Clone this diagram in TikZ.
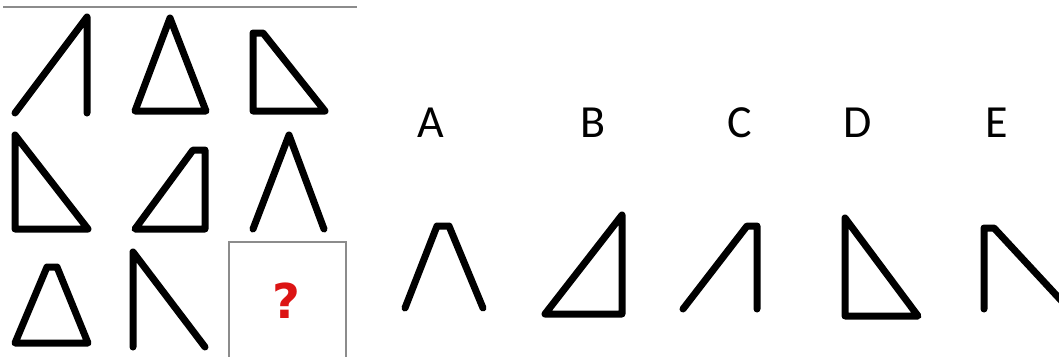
\documentclass[tikz,border=0pt]{standalone}
\usepackage{fontspec}
\setmainfont{Carlito}
\newfontfamily\qfont{DejaVu Sans}
\definecolor{qred}{RGB}{220,20,20}
\definecolor{frame}{RGB}{140,140,140}
\begin{document}
\begin{tikzpicture}[x=1pt,y=-1pt,
  fig/.style={line width=7pt,line join=round,line cap=round,black},
  lab/.style={font=\fontsize{46}{46}\selectfont,inner sep=0pt}]
\useasboundingbox (0,0) rectangle (1059,356);
\clip (0,0) rectangle (1059,356);
% top rule
\draw[frame,line width=2pt] (3,7) -- (357,7);
% grid row 1
\draw[fig] (15,113) -- (87,17) -- (87,113);
\draw[fig] (170,18) -- (206,111) -- (135,111) -- cycle;
\draw[fig] (253,33) -- (263,33) -- (325,111) -- (253,111) -- cycle;
% row 2
\draw[fig] (15,135) -- (88,229) -- (15,229) -- cycle;
\draw[fig] (193,150) -- (205,150) -- (205,229) -- (135,229) -- cycle;
\draw[fig] (253,229) -- (289,135) -- (324,229);
% row 3
\draw[fig] (47,267) -- (57,267) -- (88,343) -- (15,343) -- cycle;
\draw[fig] (133,347) -- (133,252) -- (205,347);
% question box
\node[draw=frame,line width=1.5pt,minimum width=117pt,minimum height=118pt,inner sep=0pt] (qbox) at (287.5,301) {};
\node[text=qred,font=\qfont\bfseries\fontsize{48}{48}\selectfont,inner sep=0pt] (q) at (286,301) {?};
% labels
\node[lab] (lA) at (431,123) {A};
\node[lab] (lB) at (593,123) {B};
\node[lab] (lC) at (740,123) {C};
\node[lab] (lD) at (858,123) {D};
\node[lab] (lE) at (997,123) {E};
% options
\draw[fig] (405,308) -- (437,226) -- (449,226) -- (483,308);
\draw[fig] (622,215) -- (622,314) -- (545,314) -- cycle;
\draw[fig] (683,309) -- (747,226) -- (757,226) -- (757,309);
\draw[fig] (845,218) -- (918,316) -- (845,316) -- cycle;
\draw[fig] (984,309) -- (984,228) -- (994,228) -- (1070,310);
\end{tikzpicture}
\end{document}
